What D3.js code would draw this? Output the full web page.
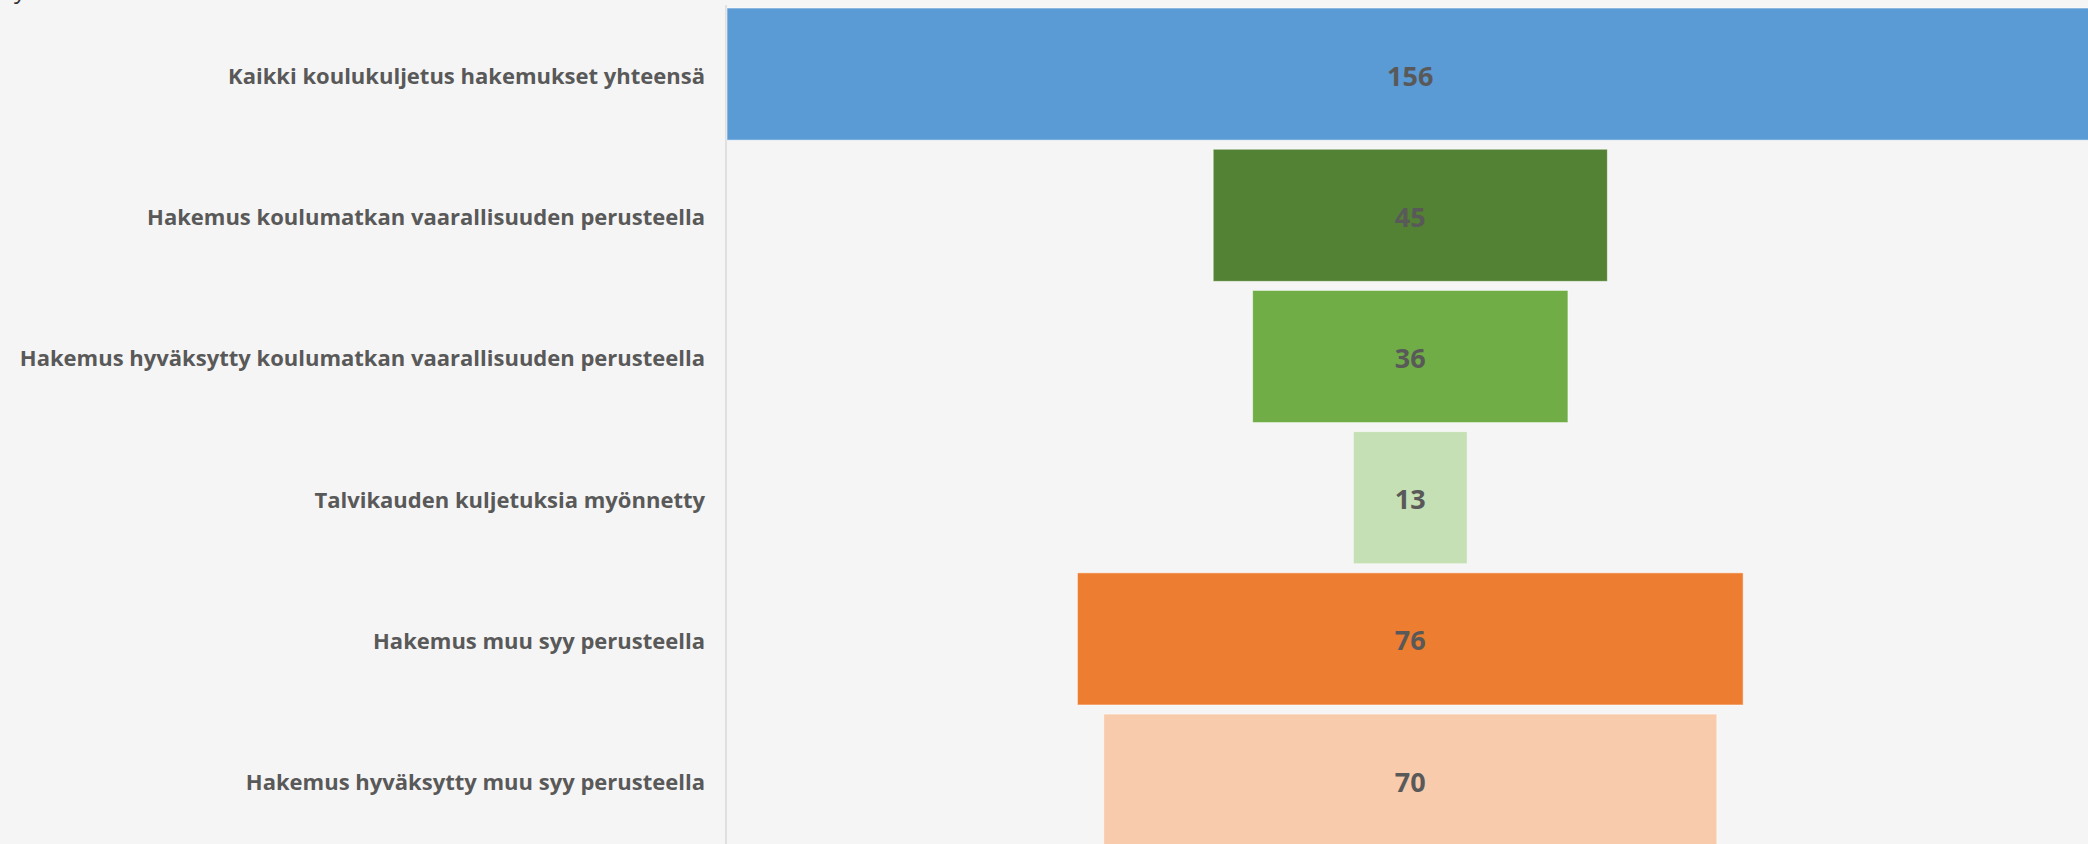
<!DOCTYPE html>
<html>
<head>
<meta charset="utf-8">
<script src="https://cdn.jsdelivr.net/npm/d3@7"></script>
<style>
  html, body { margin: 0; padding: 0; background: #f5f5f5; overflow: hidden; }
  svg { display: block; }
</style>
</head>
<body>
<main></main>
<script>
const categories = [
  'Kaikki koulukuljetus hakemukset yhteensä',
  'Hakemus koulumatkan vaarallisuuden perusteella',
  'Hakemus hyväksytty koulumatkan vaarallisuuden perusteella',
  'Talvikauden kuljetuksia myönnetty',
  'Hakemus muu syy perusteella',
  'Hakemus hyväksytty muu syy perusteella'
];
const values = [156, 45, 36, 13, 76, 70];
const colors = ['#5b9bd5', '#548235', '#70ad47', '#c5e0b4', '#ed7d31', '#f8cbad'];

const width = 2088;
const height = 844;
const axisX = 726;

const svg = d3.select('main')
              .append('svg')
              .attr('width', width)
              .attr('height', height);

svg.append('rect')
   .attr('width', width)
   .attr('height', height)
   .attr('fill', '#f5f5f5');

// title above is cut off, only a descender peeks in
svg.append('text')
   .attr('x', 14)
   .attr('y', -2)
   .style('font-family', 'Open Sans')
   .style('font-size', '24px')
   .attr('fill', '#333')
   .text('y');

const maxVal = d3.max(values);
const xScale = d3.scaleLinear()
  .domain([-maxVal / 2, maxVal / 2])
  .range([axisX + 1, axisX + 1 + maxVal * 8.76]);

const yScale = d3.scaleBand()
  .domain(categories)
  .range([8, 846.2])
  .paddingInner(0.064)
  .paddingOuter(0);

svg.append('line')
   .attr('x1', axisX)
   .attr('x2', axisX)
   .attr('y1', 5)
   .attr('y2', height)
   .attr('stroke', '#d9d9d9')
   .attr('stroke-width', 1.5);

svg.selectAll('rect.bar')
   .data(values)
   .enter()
   .append('rect')
   .attr('class', 'bar')
   .attr('x', d => xScale(-d / 2))
   .attr('width', d => xScale(d / 2) - xScale(-d / 2))
   .attr('y', (d, i) => yScale(categories[i]))
   .attr('height', yScale.bandwidth())
   .attr('fill', (d, i) => colors[i])
   .attr('stroke', 'rgba(255,255,255,0.55)')
   .attr('stroke-width', 1);

svg.selectAll('text.val')
   .data(values)
   .enter()
   .append('text')
   .attr('class', 'val')
   .attr('x', xScale(0))
   .attr('y', (d, i) => yScale(categories[i]) + yScale.bandwidth() / 2 + 1)
   .attr('text-anchor', 'middle')
   .attr('dominant-baseline', 'central')
   .style('font-family', 'Open Sans')
   .style('font-weight', 700)
   .style('font-size', '27px')
   .attr('fill', '#595959')
   .text(d => d);

svg.selectAll('text.cat')
   .data(categories)
   .enter()
   .append('text')
   .attr('class', 'cat')
   .attr('x', 705)
   .attr('y', d => yScale(d) + yScale.bandwidth() / 2 + 1)
   .attr('text-anchor', 'end')
   .attr('dominant-baseline', 'central')
   .style('font-family', 'Open Sans')
   .style('font-weight', 700)
   .style('font-size', '22px')
   .attr('fill', '#595959')
   .text(d => d);
</script>
</body>
</html>
